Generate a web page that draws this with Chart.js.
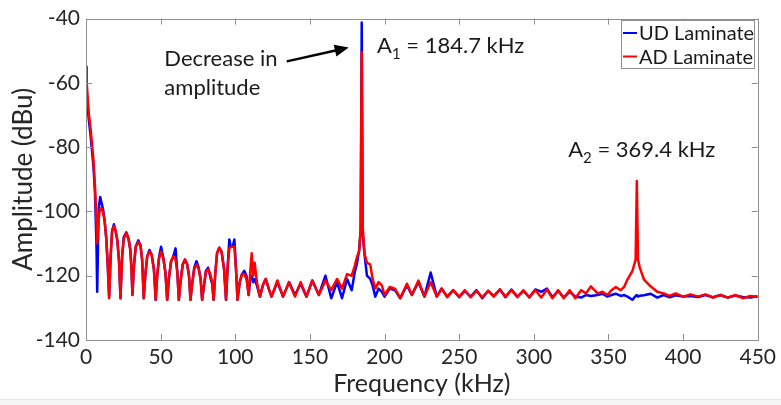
<!DOCTYPE html>
<html>
<head>
<meta charset="utf-8">
<script src="https://cdn.jsdelivr.net/npm/chart.js@4/dist/chart.umd.min.js"></script>
<style>
html,body{margin:0;padding:0;background:#ffffff;}
#wrap{width:781px;height:405px;position:relative;}
</style>
</head>
<body>
<div id="wrap"><canvas id="c" width="781" height="405"></canvas></div>
<script>
// ---------- data ----------
const freqKHz = [
  0, 0.5, 1, 2, 3, 4, 5, 6, 7, 7.5,
  8.5, 9.5, 10.5, 11.5, 12.5, 13.5, 14.5, 15.5, 16.5, 17.5,
  18.7, 19.8, 21, 22.2, 23.1, 24.2, 25.3, 27, 28.5, 29.7,
  30.5, 31.1, 32.1, 33.3, 35, 36.5, 37.6, 38.7, 39.7, 41,
  42.5, 44, 45.5, 46.7, 47.7, 49, 50.3, 51.8, 53.2, 54.4,
  55.5, 57, 58.5, 60, 61.2, 62.2, 63.3, 64.8, 66.3, 67.8,
  69, 70, 71, 72.5, 74, 75.5, 76.8, 77.8, 78.8, 80.3,
  81.8, 83.3, 84.5, 85.5, 86.5, 87.8, 89.3, 90.8, 92.5, 93.8,
  94.8, 96, 97, 98.3, 99.4, 100.5, 101.5, 103, 104.5, 106,
  107.5, 109, 110, 111, 112, 113, 114.5, 116.5, 118.5, 120.4,
  122.4, 124.3, 128.2, 132, 136, 140, 143.8, 147.7, 151.6, 156,
  160.4, 164.3, 168.2, 171.5, 174.9, 178, 180, 181.6, 183, 184,
  184.7, 185.4, 186.5, 188.2, 190.4, 192, 193.8, 196, 198.2, 200,
  203.5, 207, 210.5, 215, 218.3, 222.7, 226.7, 230.9, 235, 238.2,
  242, 246, 250, 253.8, 257.7, 261.6, 265.5, 269.4, 273.2, 277.3,
  281, 285, 289, 293, 297, 301, 305, 308.8, 312.5, 316.3,
  320, 324, 327.8, 331.7, 335, 338.2, 342.7, 346, 349.3, 352,
  354.9, 358.2, 360.5, 362.7, 366, 368.2, 369, 369.8, 371, 373.8,
  378.2, 382.7, 387, 391, 395, 400, 405, 410, 415, 420,
  425, 430, 435, 440, 445, 450
];
const udLaminate = [
  -57, -62, -67, -72, -76, -81, -86, -94, -110, -125,
  -99, -95.5, -97.5, -99.5, -103, -108, -116, -126.5, -114, -106,
  -104, -106, -109, -116, -127, -114, -108, -106.5, -108.5, -112,
  -118, -126, -117, -111, -109, -110.5, -115, -127, -120, -114,
  -112, -113.5, -118, -127.5, -120, -114, -111, -114.5, -119, -127.5,
  -121, -115.5, -114, -111.5, -119, -127.5, -122, -116.5, -115, -116.5,
  -120, -127.5, -123, -117.5, -115.5, -117.5, -121, -127.5, -124, -118.5,
  -117.5, -120.5, -122.5, -127.5, -120, -113, -111.3, -112.5, -118, -127.5,
  -118, -108.7, -111, -111, -108.7, -118, -127.5, -122, -119.5, -118.5,
  -120, -126, -121, -120, -122, -121, -123, -126.5, -123, -121,
  -124, -126.5, -122, -126.5, -122, -126, -122.5, -126.5, -121.5, -126,
  -120, -127, -122, -127, -121, -124.5, -119, -116, -112, -106,
  -41.2, -107, -113, -120, -121, -123, -126.5, -124, -125, -126.5,
  -124, -124.5, -127, -123, -126, -122, -126.5, -119, -126.5, -124,
  -126.5, -124.5, -126.7, -124.8, -126.5, -124.5, -127, -124.7, -126.3, -124.3,
  -126.7, -124.3, -126.5, -124.7, -126.7, -124.3, -125, -124, -126.7, -124.7,
  -126.8, -125, -126.5, -126.8, -126, -126.3, -126, -125.6, -126.5, -126,
  -125.6, -126.3, -126, -126.5, -127.5, -126.3, -126, -126.5, -126.2, -126.1,
  -125.6, -126.8, -126, -126.7, -126.1, -126.5, -126.3, -126.6, -126, -126.7,
  -126, -126.8, -126.2, -126.6, -126.8, -126.4
];
const adLaminate = [
  -55, -60, -64, -70, -74, -79, -84, -92, -103, -110,
  -102, -99, -99, -100.5, -103, -108, -116, -127, -114, -106,
  -104.5, -106, -109, -116, -127, -114, -108.5, -106.7, -108.5, -112,
  -118, -126, -117, -111, -109.5, -110.5, -115, -127, -120, -114,
  -112.5, -113.5, -118, -127.5, -120, -114.5, -112.5, -114.5, -119, -127.5,
  -121, -115.5, -114, -115, -119, -127.5, -122, -116.5, -115, -116.5,
  -120, -127.5, -123, -118, -116.5, -118, -121, -127.5, -124, -119,
  -118, -119.5, -122, -127.5, -120, -113, -111.3, -112.5, -118, -127.5,
  -118, -111.5, -111, -111, -111, -118, -127.5, -122, -119.5, -119.5,
  -121, -126, -119, -113, -120, -116, -122, -126.5, -123, -121,
  -124, -126.5, -121.5, -126.5, -122, -126.5, -122, -126.5, -121.5, -126,
  -121.5, -124.5, -121, -124, -119.5, -120, -117, -114, -112.5, -105,
  -50.5, -105, -113, -116, -116.5, -121, -124, -122, -123, -126,
  -123.5, -124, -127, -122.5, -126, -121.5, -126.5, -122, -126.5, -124,
  -126.7, -124.5, -126.5, -124.5, -126.7, -124.7, -126.7, -124.7, -126.5, -124.2,
  -126.5, -124.5, -126.7, -124.5, -126.8, -124.5, -126.8, -124.3, -127, -124.5,
  -127, -124.5, -127, -124.5, -125.5, -123.3, -125.5, -125, -126, -124.5,
  -123.5, -124.5, -123.5, -121.2, -118.6, -115, -90.5, -115, -117.5, -121.2,
  -123.3, -125, -125.5, -126.3, -125.5, -126.5, -125.8, -126.5, -125.8, -126.8,
  -126, -126.8, -126, -127, -126.3, -126.6
];
const seriesNames = ['UD Laminate', 'AD Laminate'];
const seriesColors = ['#0000ff', '#ff0000'];
const xTickValues = [0, 50, 100, 150, 200, 250, 300, 350, 400, 450];
const yTickValues = [-140, -120, -100, -80, -60, -40];
const xTitle = 'Frequency (kHz)';
const yTitle = 'Amplitude (dBu)';
const noteLines = ['Decrease in', 'amplitude'];
const peakLabels = [
  { base: 'A', sub: '1', rest: ' = 184.7 kHz', fx: 195, dby: -50.7 },
  { base: 'A', sub: '2', rest: ' = 369.4 kHz', fx: 323, dby: -83.1 }
];

// ---------- styling ----------
const FONT = 'Lato';
const TXT = '#262626';
const AXC = '#8f8f8f';

const framePlugin = {
  id: 'frame',
  beforeDraw(chart) {
    const { ctx, width, height } = chart;
    ctx.save();
    ctx.fillStyle = '#ffffff';
    ctx.fillRect(0, 0, width, height);
    ctx.fillStyle = '#f5f5f5';
    ctx.fillRect(0, 400, width, height - 400);
    ctx.fillStyle = '#e4e4e4';
    ctx.fillRect(0, 399, width, 1);
    ctx.restore();
  },
  afterDatasetsDraw(chart) {
    const { ctx, chartArea: a, scales } = chart;
    const xs = scales.x, ys = scales.y;
    ctx.save();
    ctx.strokeStyle = AXC;
    ctx.lineWidth = 1;
    ctx.strokeRect(Math.round(a.left) + 0.5, Math.round(a.top) + 0.5,
                   Math.round(a.right - a.left), Math.round(a.bottom - a.top));
    const TL = 6;
    ctx.beginPath();
    xTickValues.forEach(v => {
      const px = Math.round(xs.getPixelForValue(v)) + 0.5;
      ctx.moveTo(px, a.bottom); ctx.lineTo(px, a.bottom - TL);
      ctx.moveTo(px, a.top); ctx.lineTo(px, a.top + TL);
    });
    yTickValues.forEach(v => {
      const py = Math.round(ys.getPixelForValue(v)) + 0.5;
      ctx.moveTo(a.left, py); ctx.lineTo(a.left + TL, py);
      ctx.moveTo(a.right, py); ctx.lineTo(a.right - TL, py);
    });
    ctx.stroke();
    ctx.restore();
  },
  afterDraw(chart) {
    const { ctx, scales } = chart;
    const xs = scales.x, ys = scales.y;
    ctx.save();
    ctx.fillStyle = '#1a1a1a';
    ctx.textBaseline = 'alphabetic';
    // "Decrease in amplitude" note
    ctx.font = '22px ' + FONT;
    const nx = xs.getPixelForValue(52.5);
    const ny = ys.getPixelForValue(-54.7);
    ctx.fillText(noteLines[0], nx, ny);
    ctx.fillText(noteLines[1], nx, ny + 29);
    // arrow
    const x0 = xs.getPixelForValue(134.5), y0 = ys.getPixelForValue(-53.3);
    const x1 = xs.getPixelForValue(176), y1 = ys.getPixelForValue(-49);
    const ang = Math.atan2(y1 - y0, x1 - x0);
    ctx.strokeStyle = '#000';
    ctx.lineWidth = 2.5;
    ctx.beginPath();
    ctx.moveTo(x0, y0);
    ctx.lineTo(x1 - 10 * Math.cos(ang), y1 - 10 * Math.sin(ang));
    ctx.stroke();
    ctx.fillStyle = '#000';
    ctx.beginPath();
    ctx.moveTo(x1, y1);
    ctx.lineTo(x1 - 14 * Math.cos(ang) + 6 * Math.sin(ang), y1 - 14 * Math.sin(ang) - 6 * Math.cos(ang));
    ctx.lineTo(x1 - 14 * Math.cos(ang) - 6 * Math.sin(ang), y1 - 14 * Math.sin(ang) + 6 * Math.cos(ang));
    ctx.closePath();
    ctx.fill();
    // peak labels with subscripts
    ctx.fillStyle = '#1a1a1a';
    peakLabels.forEach(p => {
      let px = xs.getPixelForValue(p.fx);
      const py = ys.getPixelForValue(p.dby);
      ctx.font = '22px ' + FONT;
      ctx.fillText(p.base, px, py);
      px += ctx.measureText(p.base).width;
      ctx.font = '15px ' + FONT;
      ctx.fillText(p.sub, px, py + 6);
      px += ctx.measureText(p.sub).width;
      ctx.font = '22px ' + FONT;
      ctx.fillText(p.rest, px, py);
    });
    // legend
    const lx = 621, ly = 20, lw = 133, lh = 48;
    ctx.fillStyle = '#ffffff';
    ctx.fillRect(lx, ly, lw, lh);
    ctx.strokeStyle = AXC;
    ctx.lineWidth = 1;
    ctx.strokeRect(lx + 0.5, ly + 0.5, lw, lh);
    ctx.font = '20px ' + FONT;
    ctx.textBaseline = 'middle';
    chart.data.datasets.forEach((ds, i) => {
      const yy = ly + 13 + i * 23.5;
      ctx.strokeStyle = ds.borderColor;
      ctx.lineWidth = 2;
      ctx.beginPath();
      ctx.moveTo(lx + 2, yy); ctx.lineTo(lx + 16, yy);
      ctx.stroke();
      ctx.fillStyle = '#1a1a1a';
      ctx.fillText(ds.label, lx + 18, yy + 1);
    });
    ctx.restore();
  }
};

const mkData = arr => freqKHz.map((f, i) => ({ x: f, y: arr[i] }));

new Chart(document.getElementById('c').getContext('2d'), {
  type: 'line',
  data: {
    datasets: [
      { label: seriesNames[0], data: mkData(udLaminate), borderColor: seriesColors[0],
        borderWidth: 2.5, pointRadius: 0, tension: 0, order: 2, borderJoinStyle: 'round', fill: false },
      { label: seriesNames[1], data: mkData(adLaminate), borderColor: seriesColors[1],
        borderWidth: 2.5, pointRadius: 0, tension: 0, order: 1, borderJoinStyle: 'round', fill: false }
    ]
  },
  options: {
    responsive: false,
    animation: false,
    devicePixelRatio: 1,
    layout: { padding: { top: 15, right: 20, left: 0, bottom: 0 } },
    plugins: { legend: { display: false }, tooltip: { enabled: false } },
    scales: {
      x: {
        type: 'linear', min: 0, max: 450,
        afterBuildTicks: s => { s.ticks = xTickValues.map(v => ({ value: v })); },
        afterFit: s => { s.height = 65; },
        grid: { display: false, drawTicks: false },
        border: { display: false },
        ticks: { font: { family: FONT, size: 21 }, color: TXT, padding: 5, maxRotation: 0, autoSkip: false },
        title: { display: true, text: xTitle, font: { family: FONT, size: 25 }, color: TXT, padding: { top: 0, bottom: 6 } }
      },
      y: {
        type: 'linear', min: -140, max: -40,
        afterBuildTicks: s => { s.ticks = yTickValues.map(v => ({ value: v })); },
        afterFit: s => { s.width = 86; },
        grid: { display: false, drawTicks: false },
        border: { display: false },
        ticks: { font: { family: FONT, size: 21 }, color: TXT, padding: 6, autoSkip: false },
        title: { display: true, text: yTitle, font: { family: FONT, size: 26 }, color: TXT, padding: { top: 8, bottom: 0 } }
      }
    }
  },
  plugins: [framePlugin]
});
</script>
</body>
</html>
